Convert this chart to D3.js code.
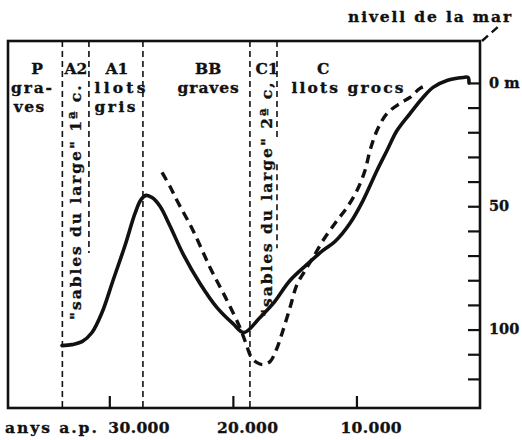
<!DOCTYPE html>
<html><head><meta charset="utf-8">
<script src="https://cdn.jsdelivr.net/npm/d3@7"></script>
<style>
html,body{margin:0;padding:0;background:#fff;}
svg{display:block;}
text{font-family:"DejaVu Serif","Liberation Serif",serif;font-weight:bold;fill:#111;stroke:#111;stroke-width:0.35px;}
</style></head>
<body>
<svg id="chart" width="522" height="440"></svg>
<script>
// ---- data ----
// solid curve: [years before present, depth in m]
const solidCurve = [
 [33829,106.5],[33019,106.1],[32210,104.9],[31401,101.2],[30592,93.1],[29701,80.1],
 [28730,65.9],[27921,52.9],[27435,47.3],[27031,45.6],[26545,46.5],[25898,50.0],
 [25088,58.0],[24036,69.3],[22660,81.3],[21285,91.1],[19990,97.6],[19100,101.2],
 [17805,95.1],[16753,89.5],[15377,80.1],[14001,73.6],[12706,67.9],[11735,64.3],
 [10521,56.9],[9469,47.7],[8336,35.5],[7527,27.4],[6717,19.3],[5665,12.4],
 [4613,5.9],[3804,1.8],[2671,-1.0],[1376,-2.2],[971,-2.2],[890,0]
];
// dashed curve
const dashedCurve = [
 [25736,36.3],[25088,42.0],[24522,47.7],[23227,59.8],[21851,74.8],[20475,88.2],
 [19423,99.2],[18938,105.7],[18533,111.0],[18047,113.4],[17562,114.2],[16995,113.0],
 [16510,108.5],[16024,101.6],[15377,91.1],[14810,81.7],[14163,76.1],[13515,70.8],
 [12706,63.9],[11573,55.8],[10764,50.5],[9955,43.6],[9307,35.5],[8902,27.4],
 [8336,19.3],[7527,12.4],[6474,8.3],[5665,5.9],[4856,2.2],[4289,1.0]
];
// zone boundary dashed lines: [year, depth from, depth to]
const boundaries = [
 [33800,-17,132],[31650,-17,69],[27280,-17,132],[18620,-17,132],[16430,-17,23],[16430,33,67]
];
const yearTicks = [30000,20000,10000];
const yearLabels = ["30.000","20.000","10.000"];
const depthTicks = [0,10,20,30,40,50,60,70,80,90,100,110,120];
const depthLabels = {0:"0 m",50:"50",100:"100"};
// zone header labels: [text, year at centre, row]
const zoneLabels = [
 ["P",35850,0],["gra-",36300,1],["ves",36500,2],
 ["A2",32700,0],["A1",29380,0],["llots",29135,1],["gris",29540,2],
 ["BB",22000,0],["graves",22000,1],
 ["C1",17240,0],["C",12700,0],["llots grocs",10723,1]
];
// rotated labels: [text, year of baseline]
const rotatedLabels = [
 ['"sables du large" 1ª c.',32300],
 ['"sables du large" 2ª c,',16830]
];
const axisTitle = "anys a.p.";
const seaLevelText = "nivell de la mar";

// ---- drawing ----
const svg = d3.select("#chart");
const x = d3.scaleLinear().domain([38200,0]).range([8,480]);
const y = d3.scaleLinear().domain([-17,131.8]).range([41,408]);
const FS = 15.5, PITCH = 10.2;   // typewriter-like fixed pitch
function mono(sel, fs){
  sel.attr("font-size",fs||FS).each(function(){
    const target = this.textContent.length*PITCH;
    if (this.getComputedTextLength() < target*0.98) {
      d3.select(this).attr("textLength",target).attr("lengthAdjust","spacing");
    }
  });
}

// boundaries
svg.append("g").selectAll("line").data(boundaries).join("line")
  .attr("x1",d=>x(d[0])).attr("x2",d=>x(d[0]))
  .attr("y1",d=>y(d[1])).attr("y2",d=>y(d[2]))
  .attr("stroke","#111").attr("stroke-width",1.6).attr("stroke-dasharray","6,4");

// axes ticks
const bottomAxis = d3.axisBottom(x).tickValues(yearTicks).tickSize(-12).tickFormat("");
const gb = svg.append("g").attr("transform",`translate(0,${y.range()[1]})`).call(bottomAxis);
gb.select(".domain").remove();
gb.selectAll(".tick line").attr("stroke","#111").attr("stroke-width",2.2);

const rightAxis = d3.axisRight(y).tickValues(depthTicks).tickSize(-12).tickPadding(9)
  .tickFormat(d=>depthLabels[d]||"");
const gr = svg.append("g").attr("transform",`translate(${x(0)},0)`).call(rightAxis);
gr.select(".domain").remove();
gr.selectAll(".tick line").attr("stroke","#111").attr("stroke-width",2.2);
gr.selectAll(".tick text").attr("font-family",null).attr("fill","#111").attr("dy","0.3em")
  .filter(function(){return this.textContent.length>0;}).call(mono, 14.5);

// frame
svg.append("rect").attr("x",x(38200)).attr("y",y(-17)).attr("width",x(0)-x(38200))
  .attr("height",y(131.8)-y(-17)).attr("fill","none").attr("stroke","#111").attr("stroke-width",2.6);

// curves
const line = d3.line().x(d=>x(d[0])).y(d=>y(d[1])).curve(d3.curveCatmullRom.alpha(0.5));
svg.append("path").attr("d",line(solidCurve)).attr("fill","none").attr("stroke","#111")
  .attr("stroke-width",3.6).attr("stroke-linejoin","round").attr("stroke-linecap","round");
svg.append("path").attr("d",line(dashedCurve)).attr("fill","none").attr("stroke","#111")
  .attr("stroke-width",3.4).attr("stroke-dasharray","9,6");

// zone labels
const rowBase = [74,93,112];
svg.append("g").selectAll("text").data(zoneLabels).join("text")
  .attr("x",d=>x(d[1])).attr("y",d=>rowBase[d[2]]).attr("text-anchor","middle")
  .text(d=>d[0]).call(mono);

// rotated labels
const rotStart = [320,317];
svg.append("g").selectAll("text").data(rotatedLabels).join("text")
  .attr("transform",(d,i)=>`translate(${x(d[1])},${rotStart[i]}) rotate(-90)`)
  .text(d=>d[0]).call(mono);

// bottom labels
const labelShift = [-1,-16,-16];
svg.append("g").selectAll("text").data(yearTicks).join("text")
  .attr("x",(d,i)=>x(d)+labelShift[i]).attr("y",433).text((d,i)=>yearLabels[i]).call(mono);
svg.append("text").attr("x",5).attr("y",433).text(axisTitle).call(mono);

// sea level
svg.append("text").attr("x",348).attr("y",22).text(seaLevelText).call(mono);
svg.append("line").attr("x1",x(0)+2).attr("y1",y(-17)).attr("x2",x(0)+20).attr("y2",y(-17)-16)
  .attr("stroke","#111").attr("stroke-width",2.4).attr("stroke-dasharray","8,5");
</script>
</body></html>
